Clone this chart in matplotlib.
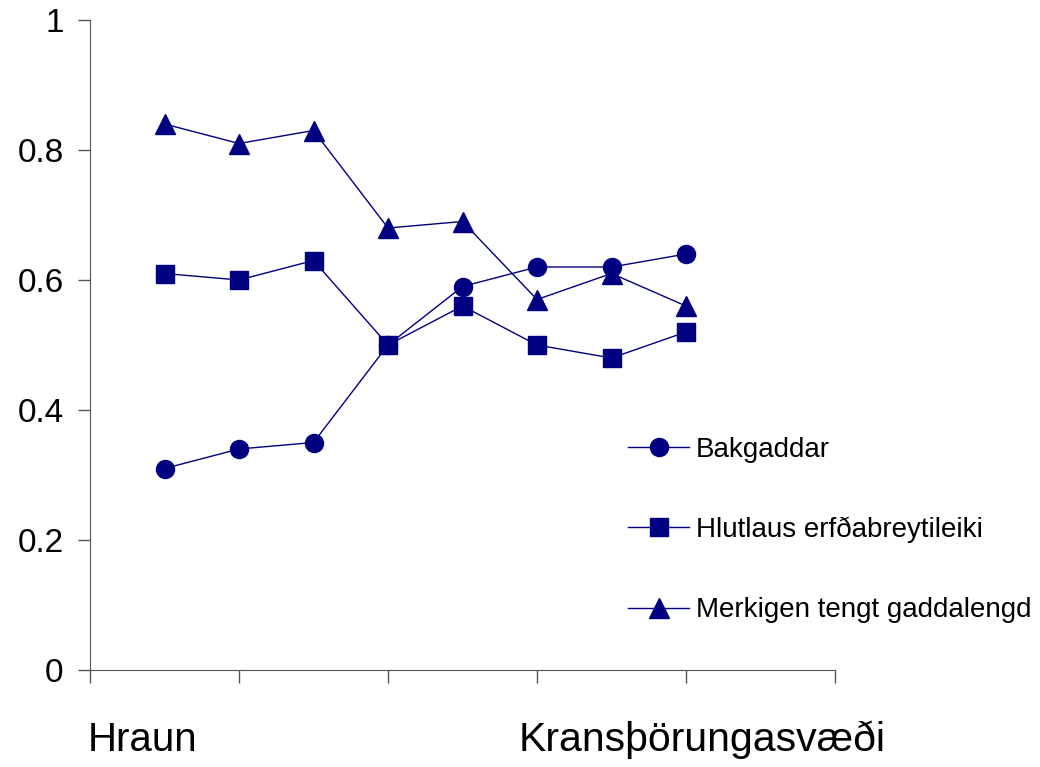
import matplotlib
matplotlib.use("Agg")
import matplotlib.pyplot as plt

plt.rcParams['font.family'] = ['Liberation Sans', 'DejaVu Sans']

x = [1, 2, 3, 4, 5, 6, 7, 8]
bakgaddar = [0.31, 0.34, 0.35, 0.50, 0.59, 0.62, 0.62, 0.64]
hlutlaus = [0.61, 0.60, 0.63, 0.50, 0.56, 0.50, 0.48, 0.52]
merkigen = [0.84, 0.81, 0.83, 0.68, 0.69, 0.57, 0.61, 0.56]
yticks = [0, 0.2, 0.4, 0.6, 0.8, 1]
ytick_labels = ["0", "0.2", "0.4", "0.6", "0.8", "1"]

navy = "#000080"

fig = plt.figure(figsize=(10.4, 7.67), dpi=100)
ax = fig.add_axes([90 / 1040, 97 / 767, 745 / 1040, 650 / 767])

ax.plot(x, bakgaddar, color=navy, lw=1, marker="o", ms=13, label="Bakgaddar")
ax.plot(x, hlutlaus, color=navy, lw=1, marker="s", ms=12.5, label="Hlutlaus erfðabreytileiki")
ax.plot(x, merkigen, color=navy, lw=1, marker="^", ms=15, label="Merkigen tengt gaddalengd")

ax.set_xlim(0, 10)
ax.set_ylim(0, 1)
ax.set_xticks([0, 2, 4, 6, 8, 10])
ax.set_xticklabels([])
ax.set_yticks(yticks)
ax.set_yticklabels(ytick_labels, fontsize=24)

# only left and bottom spines, grey
ax.spines['top'].set_visible(False)
ax.spines['right'].set_visible(False)
for s in ['left', 'bottom']:
    ax.spines[s].set_color('#555555')
ax.tick_params(axis='both', direction='out', length=9, color='#555555', width=1)
ax.tick_params(axis='y', pad=10)

ax.legend(loc='center left', bbox_to_anchor=(628 / 1040, (767 - 530) / 767),
          bbox_transform=fig.transFigure, frameon=False, fontsize=20,
          handlelength=2.2, handletextpad=0.25, labelspacing=1.95,
          borderpad=0, borderaxespad=0)

fig.text(88 / 1040, 8 / 767, "Hraun", fontsize=29, ha='left', va='bottom')
fig.text(519 / 1040, 8 / 767, "Kransþörungasvæði", fontsize=29.5, ha='left', va='bottom')

fig.savefig("out.png", dpi=100)
